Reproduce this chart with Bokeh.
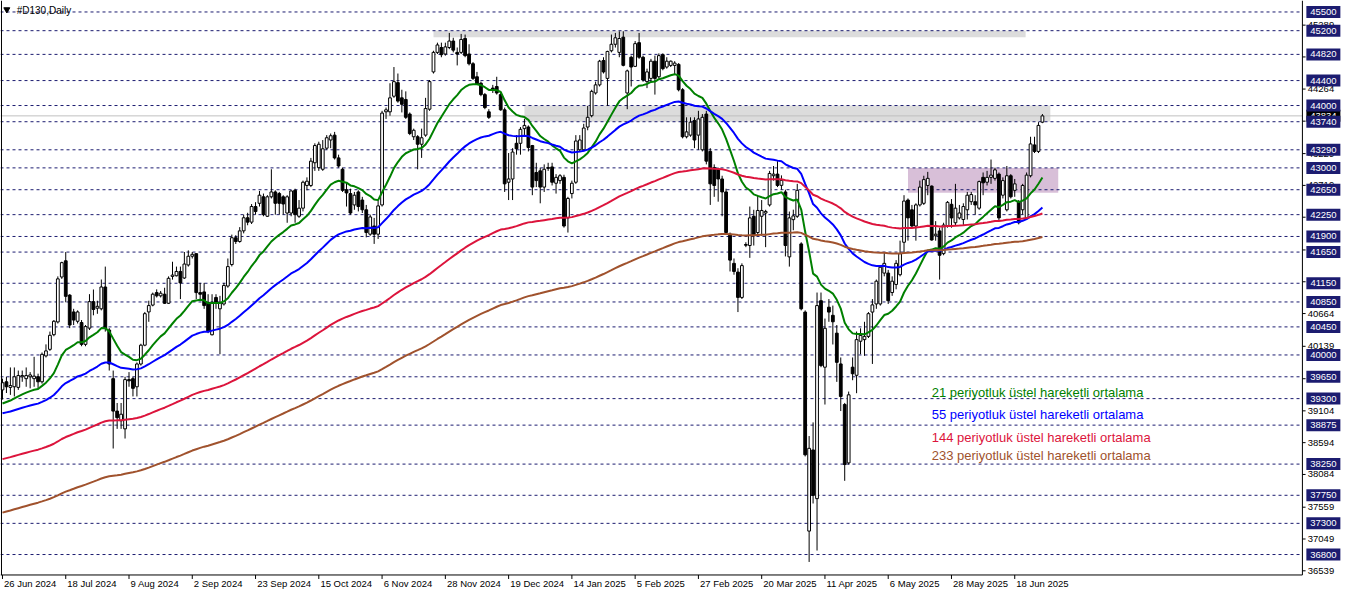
import numpy as np
from bokeh.plotting import figure
from bokeh.models import Range1d
from bokeh.core.properties import value
from bokeh.embed import file_html
from bokeh.resources import INLINE

# ---------------- data ----------------
dates = ["26 Jun 2024", "18 Jul 2024", "9 Aug 2024", "2 Sep 2024", "23 Sep 2024",
         "15 Oct 2024", "6 Nov 2024", "28 Nov 2024", "19 Dec 2024", "14 Jan 2025",
         "5 Feb 2025", "27 Feb 2025", "20 Mar 2025", "11 Apr 2025", "6 May 2025",
         "28 May 2025", "18 Jun 2025"]
date_bars = [0, 16, 32, 48, 64, 80, 96, 112, 128, 144, 160, 176, 192, 208, 224, 240, 256]

opens = [
    39440, 39570, 39480, 39490, 39480, 39650, 39620, 39650, 39620, 39650,
    39570, 39985, 40090, 40325, 40530, 41250, 41510, 40960, 40690, 40540,
    40520, 40170, 40430, 40855, 40750, 40740, 41090, 40400, 39620, 39100,
    38945, 38815, 39605, 39620, 39490, 39855, 40157, 40690, 40800, 41000,
    40948, 40974, 40829, 41260, 41270, 41339, 41234, 41443, 41583, 41625,
    41000, 41011, 40844, 40324, 40922, 40740, 40818, 41105, 41450, 41880,
    41820, 41990, 42200, 42130, 42380, 42432, 42536, 42224, 42536, 42614,
    42588, 42536, 42276, 42276, 42640, 42224, 42354, 42718, 42718, 43082,
    43004, 42978, 43316, 43447, 43525, 43160, 42978, 42650, 42588, 42406,
    42614, 42484, 42328, 41937, 42068, 41937, 42406, 43899, 43899, 44149,
    44367, 44123, 44097, 43863, 43499, 43499, 43379, 43525, 43941, 44539,
    44852, 44930, 44826, 44930, 45034, 44852, 44852, 45075, 44826, 44670,
    44461, 44357, 44175, 43899, 44279, 44305, 44175, 43931, 42770, 42822,
    43394, 43394, 43629, 43655, 43358, 42926, 42952, 42692, 43004, 43015,
    42754, 42796, 42848, 42198, 42588, 42770, 43290, 43290, 43655, 43837,
    44201, 44331, 44722, 44435, 44878, 44982, 44852, 45096, 44201, 44774,
    44628, 45008, 44774, 44383, 44435, 44711, 44461, 44815, 44617, 44643,
    44643, 44659, 44253, 43499, 43525, 43759, 43525, 43290, 43863, 43264,
    43004, 42978, 42822, 42614, 41937, 41469, 41329, 40923, 41771, 41755,
    42224, 41963, 42224, 42276, 42406, 42874, 42900, 42720, 42614, 41573,
    42170, 42224, 41781, 40688, 37176, 38477, 37696, 40870, 39804, 40766,
    40636, 40350, 39856, 39205, 38269, 39804, 39674, 40220, 40246, 40298,
    40688, 40818, 40818, 41313, 41313, 41001, 41131, 41287, 41807, 42484,
    42328, 42068, 42406, 42432, 42718, 42708, 41911, 41989, 41625, 42068,
    42416, 42120, 42198, 42172, 42328, 42458, 42458, 42354, 42848, 42770,
    42848, 42832, 42900, 42562, 42328, 42874, 42640, 42458, 42328, 42198,
    42874, 43368, 43264, 43733]

highs = [
    39620, 39650, 39800, 39800, 39750, 39750, 39800, 39725, 39970, 39700,
    40040, 40170, 40375, 40560, 41260, 41495, 41650, 40975, 40740, 40715,
    40560, 40480, 40975, 41050, 40870, 41210, 41417, 40430, 39750, 39230,
    39230, 39650, 39725, 39650, 39880, 40180, 40690, 40870, 41000, 41052,
    41026, 41078, 41260, 41495, 41417, 41417, 41651, 41677, 41651, 41625,
    41156, 41156, 40974, 40974, 40974, 40948, 41156, 41547, 41930, 41920,
    42050, 42250, 42280, 42420, 42450, 42630, 42588, 42562, 42978, 42640,
    42614, 42562, 42562, 42640, 42666, 42484, 42796, 42848, 43160, 43394,
    43420, 43446, 43525, 43551, 43577, 43212, 43004, 42770, 42666, 42614,
    42640, 42536, 42406, 42250, 42198, 42484, 43915, 43967, 44357, 44617,
    44513, 44253, 44227, 43889, 43629, 43525, 43629, 44123, 44409, 44878,
    45008, 45008, 45008, 45164, 45086, 44930, 45148, 45138, 44982, 44696,
    44539, 44383, 44201, 43941, 44331, 44461, 44201, 43967, 43238, 43316,
    43525, 43655, 43785, 43681, 43368, 43082, 43004, 43056, 43082, 43082,
    42900, 42900, 42890, 42536, 42796, 43525, 43525, 43707, 43993, 44253,
    44383, 44732, 44774, 44878, 45138, 45164, 45190, 45190, 44576, 44800,
    45034, 45164, 44800, 44591, 44748, 44800, 44836, 44836, 44774, 44722,
    44711, 44680, 44279, 43811, 43811, 43811, 43915, 43863, 43915, 43316,
    43056, 43004, 42874, 42666, 41963, 41547, 41391, 41469, 41807, 42380,
    42328, 42562, 42484, 42328, 42952, 43030, 43108, 42880, 42650, 42300,
    42330, 42744, 41807, 40715, 38700, 38919, 41001, 41001, 40584, 40896,
    40792, 40480, 39960, 39231, 39413, 39960, 40376, 40428, 40532, 40688,
    40896, 41209, 41443, 41651, 41365, 41261, 41521, 41833, 42562, 42510,
    42406, 42432, 42796, 42874, 42936, 42718, 42146, 42041, 42120, 42468,
    42500, 42744, 42406, 42432, 42614, 42614, 42562, 42796, 42926, 42952,
    43134, 43004, 42926, 42848, 43030, 42900, 42822, 42484, 42744, 42926,
    43499, 43499, 43733, 43863]

lows = [
    39285, 39390, 39360, 39335, 39440, 39570, 39490, 39465, 39490, 39450,
    39540, 39960, 40065, 40300, 40505, 41220, 40845, 40430, 40480, 40505,
    40140, 40140, 40400, 40636, 40660, 40715, 40375, 39750, 38500, 38815,
    38815, 38660, 39490, 39335, 39335, 39830, 40140, 40532, 40780, 40922,
    40922, 40818, 40818, 41208, 41260, 40896, 41219, 41417, 41547, 40896,
    40896, 40740, 40350, 40313, 40740, 40012, 40792, 41078, 41420, 41780,
    41800, 41950, 42080, 42100, 42250, 42380, 42224, 42213, 42510, 42250,
    42250, 42250, 42120, 42224, 42120, 42198, 42302, 42640, 42692, 42952,
    42952, 42952, 43290, 43316, 43134, 43004, 42614, 42380, 42250, 42328,
    42302, 42276, 41886, 41911, 41781, 41860, 42380, 43785, 43837, 44123,
    44045, 43889, 43785, 43525, 43447, 42978, 43160, 43499, 43915, 44513,
    44826, 44774, 44800, 44904, 44852, 44643, 44826, 44774, 44643, 44409,
    44331, 44149, 43941, 43785, 44201, 44175, 43915, 42614, 42484, 42484,
    43212, 43212, 43499, 43264, 42562, 42692, 42432, 42614, 42952, 42718,
    42588, 42744, 42042, 41963, 42510, 42744, 43264, 43264, 43603, 43811,
    44175, 44305, 44513, 43993, 44852, 44930, 44774, 44628, 43941, 44305,
    44617, 44748, 44383, 44279, 44383, 44175, 44435, 44565, 44591, 44617,
    44487, 44227, 43473, 43473, 43499, 43317, 43290, 43264, 43056, 42406,
    42536, 42458, 42224, 41937, 41339, 41287, 40688, 40897, 41729, 41557,
    41755, 41911, 41911, 41729, 42380, 42796, 42692, 42650, 41580, 41417,
    42000, 42198, 40715, 38373, 36681, 37618, 36864, 39804, 39205, 40532,
    40168, 39569, 39101, 37982, 38243, 39595, 39387, 40012, 39986, 40272,
    39856, 40740, 40792, 41261, 40818, 40948, 41053, 41261, 41651, 41833,
    42041, 41833, 42380, 42406, 42562, 41833, 41833, 41209, 41599, 42041,
    42041, 42068, 42172, 42068, 42172, 42406, 42250, 42328, 42562, 42718,
    42744, 42796, 42146, 42510, 42302, 42510, 42536, 42094, 42250, 42172,
    42848, 43238, 43238, 43717]

closes = [
    39555, 39490, 39510, 39650, 39670, 39670, 39670, 39680, 39660, 39570,
    40010, 40065, 40315, 40540, 41220, 41480, 40940, 40480, 40560, 40690,
    40170, 40455, 40855, 40730, 40780, 41090, 40430, 39855, 39100, 38995,
    39050, 39605, 39585, 39465, 39855, 40157, 40662, 40792, 40975, 40948,
    40990, 40829, 41229, 41281, 41339, 41156, 41458, 41583, 41614, 41000,
    40974, 40792, 40376, 40844, 40834, 40844, 41115, 41417, 41880, 41820,
    41990, 42200, 42130, 42380, 42300, 42562, 42250, 42536, 42614, 42432,
    42432, 42421, 42536, 42630, 42250, 42354, 42770, 42786, 43108, 43358,
    43379, 43306, 43483, 43515, 43160, 43030, 42640, 42598, 42276, 42562,
    42380, 42328, 41963, 42213, 41937, 42390, 43879, 43931, 44123, 44383,
    44071, 44019, 43811, 43551, 43603, 43379, 43483, 43951, 44383, 44852,
    44971, 44815, 44940, 45034, 44888, 44826, 45060, 44800, 44670, 44435,
    44347, 44175, 43967, 43811, 44253, 44201, 43931, 42744, 42822, 43254,
    43306, 43618, 43681, 43327, 42692, 42796, 42692, 42978, 42994, 42770,
    42848, 42874, 42068, 42510, 42754, 43431, 43447, 43639, 43811, 44227,
    44331, 44711, 44539, 44867, 44982, 45086, 45075, 44644, 44555, 44617,
    44992, 44774, 44409, 44539, 44711, 44435, 44800, 44591, 44711, 44711,
    44680, 44253, 43499, 43577, 43733, 43447, 43785, 43811, 43108, 42744,
    42718, 42822, 42614, 41963, 41521, 41339, 40923, 41433, 41760, 42198,
    41911, 42317, 42317, 42302, 42911, 42900, 42718, 42800, 41755, 42198,
    42230, 42640, 40740, 38399, 38503, 37748, 40792, 39830, 40428, 40688,
    40532, 39882, 39335, 38243, 39361, 39699, 40246, 40314, 40298, 40662,
    40803, 41183, 41407, 41469, 40870, 41183, 41469, 41625, 42468, 42198,
    42068, 42406, 42692, 42812, 42832, 41844, 41937, 41599, 42083, 42447,
    42198, 42354, 42276, 42380, 42562, 42572, 42406, 42780, 42760, 42848,
    42884, 42968, 42198, 42796, 42874, 42536, 42744, 42120, 42718, 42884,
    43384, 43264, 43681, 43834]

ema_periods = [21, 55, 144, 233]
ema_start = [39221, 39064, 38330, 37472]          # indicator values at the first bar
ema_colors = ["#008000", "#0000ff", "#dc143c", "#a0522d"]
legend_texts = ["21 periyotluk üstel hareketli ortalama",
                "55 periyotluk üstel hareketli ortalama",
                "144 periyotluk üstel hareketli ortalama",
                "233 periyotluk üstel hareketli ortalama"]

level_prices = [45500, 45200, 44820, 44400, 44000, 43740, 43290, 43000, 42650, 42250,
                41900, 41650, 41150, 40850, 40450, 40000, 39650, 39300, 38875, 38250,
                37750, 37300, 36800]
axis_ticks = [36539, 37049, 37559, 38084, 38594, 39104, 39619, 40139, 40664, 41174,
              41684, 42209, 42719, 43229, 43749, 44264, 44779, 45289]
bid_price = 43834

# ---------------- layout constants ----------------
W, H = 1346, 595
X0, XAX, X1 = -0.5, 328.75, 339.9        # left edge, price-scale line, right edge (bars)
Y0, YB, Y1 = 36143, 36472, 45684         # canvas bottom, chart bottom border, canvas top
PPX = 16.04                              # price units per pixel
NAVY = "#1c1c70"
FONT = value("Liberation Sans")

p = figure(width=W, height=H, x_range=Range1d(X0, X1), y_range=Range1d(Y0, Y1),
           output_backend="svg", toolbar_location=None,
           x_axis_location=None, y_axis_location=None,
           min_border_left=0, min_border_right=0, min_border_top=0, min_border_bottom=0)
p.outline_line_color = None
p.grid.visible = False

# zones
p.quad(left=[109, 132, 229], right=[258.75, 265, 267],
       bottom=[45095, 43740, 42600], top=[45200, 44000, 43000],
       fill_color=["#dcdcdc", "#dcdcdc", "#d8bfd8"], line_color=None)

# level lines
p.segment(x0=[X0] * len(level_prices), x1=[XAX] * len(level_prices),
          y0=level_prices, y1=level_prices, line_color=NAVY, line_width=1, line_dash="3 3")
# bid line
p.segment(x0=[X0], x1=[XAX], y0=[bid_price], y1=[bid_price], line_color="#c0c0c0", line_width=1)

# candles
n = len(closes)
idx = np.arange(n)
o = np.array(opens, float); c = np.array(closes, float)
hi = np.array(highs, float); lo = np.array(lows, float)
p.segment(x0=idx, x1=idx, y0=lo, y1=hi, line_color="black", line_width=1)
up = c >= o
p.vbar(x=idx[up], width=0.7, top=c[up], bottom=o[up], fill_color="white", line_color="black", line_width=1)
p.vbar(x=idx[~up], width=0.7, top=o[~up], bottom=c[~up], fill_color="black", line_color="black", line_width=1)

# EMAs
def ema(vals, period, start):
    k = 2.0 / (period + 1)
    out = [start]
    for v in vals[1:]:
        out.append(out[-1] + k * (v - out[-1]))
    return out

for per, st, col in zip(ema_periods, ema_start, ema_colors):
    p.line(idx, ema(list(c), per, st), line_color=col, line_width=2)

# legend texts
p.text(x=[235] * 4, y=[39392, 39049, 38674, 38393], text=legend_texts, text_color=ema_colors,
       text_font=FONT, text_font_size=value("13px"), text_align="left", text_baseline="middle")

# title
p.scatter(x=[1.1], y=[Y1 - 9 * PPX], marker="inverted_triangle", size=6, color="black")
p.text(x=[3.6], y=[Y1 - 10 * PPX], text=["#D130,Daily"], text_color="black",
       text_font=FONT, text_font_size=value("10px"), text_align="left", text_baseline="middle")

# frame lines: left border, bottom border, price-scale line
p.segment(x0=[-0.25, X0, XAX], x1=[-0.25, XAX, XAX], y0=[YB, YB, YB], y1=[Y1, YB, Y1],
          line_color="black", line_width=1)

# time scale
p.segment(x0=date_bars, x1=date_bars, y0=[YB] * len(date_bars), y1=[YB - 4 * PPX] * len(date_bars),
          line_color="black", line_width=1)
p.text(x=[b + 0.4 for b in date_bars], y=[YB - 9 * PPX] * len(date_bars), text=dates,
       text_color="black", text_font=FONT, text_font_size=value("9.5px"),
       text_align="left", text_baseline="middle")

# price scale
p.segment(x0=[XAX] * len(axis_ticks), x1=[XAX + 0.8] * len(axis_ticks), y0=axis_ticks, y1=axis_ticks,
          line_color="black", line_width=1)
p.text(x=[XAX + 1.35] * len(axis_ticks), y=axis_ticks, text=[str(t) for t in axis_ticks],
       text_color="black", text_font=FONT, text_font_size=value("9.5px"),
       text_align="left", text_baseline="middle")
bx = XAX + 5.3
p.rect(x=[bx], y=[bid_price], width=34, height=12, width_units="screen", height_units="screen",
       fill_color="black", line_color=None)
p.text(x=[bx], y=[bid_price], text=[str(bid_price)], text_color="white",
       text_font=FONT, text_font_size=value("9.5px"), text_align="center", text_baseline="middle")
p.rect(x=[bx] * len(level_prices), y=level_prices, width=34, height=12,
       width_units="screen", height_units="screen", fill_color=NAVY, line_color=None)
p.text(x=[bx] * len(level_prices), y=level_prices, text=[str(v) for v in level_prices],
       text_color="white", text_font=FONT, text_font_size=value("9.5px"),
       text_align="center", text_baseline="middle")

open("out.html", "w").write(file_html(p, INLINE))
